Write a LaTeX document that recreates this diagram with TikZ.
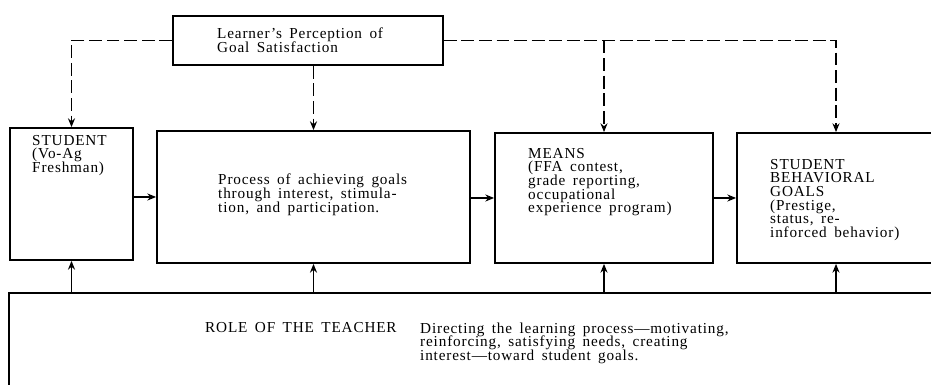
\documentclass[tikz,border=0pt]{standalone}
\usepackage{fontspec}
\setmainfont{Liberation Serif}[LetterSpace=5.5, WordSpace=1.6]
\usetikzlibrary{arrows.meta}
\setlength{\lineskiplimit}{-20pt}

\tikzset{
  box/.style={draw, line width=1.5pt, rectangle, inner sep=0pt},
  boxtext/.style={anchor=north west, align=left, inner sep=0pt,
    font=\fontsize{13}{11.6}\selectfont},
  flow/.style={line width=1.4pt, -{Stealth[length=7.5pt,width=6pt]}},
  feedback/.style={flow, dash pattern=on 11pt off 4pt}
}

\begin{document}
\begin{tikzpicture}
\useasboundingbox (0,0) rectangle (27.93,11.55);
\clip (0,0) rectangle (27.93,11.55);

% The boxes
\node[box, minimum width=8.1cm, minimum height=1.47cm] (perception) at (9.24, 10.335) {};
\node[box, minimum width=3.69cm, minimum height=3.96cm] (student) at (2.145, 5.73) {};
\node[box, minimum width=9.39cm, minimum height=3.96cm] (process) at (9.405, 5.64) {};
\node[box, minimum width=6.54cm, minimum height=3.9cm] (means) at (18.12, 5.61) {};
\node[box, minimum width=5.94cm, minimum height=3.9cm] (goals) at (25.08, 5.61) {};
\node[box, minimum width=28.53cm, minimum height=3.21cm] (teacher) at (14.535, 1.155) {};

% Texts inside the boxes
\node[boxtext] (perceptiontext) at (6.51, 10.71) {Learner’s Perception of\\Goal Satisfaction};
\node[boxtext] (studenttext) at (0.96, 7.50) {STUDENT\\(Vo-Ag\\Freshman)};
\node[boxtext] (processtext) at (6.54, 6.33) {Process of achieving goals\\through interest, stimula-\\tion, and participation.};
\node[boxtext] (meanstext) at (15.84, 7.11) {MEANS\\(FFA contest,\\grade reporting,\\occupational\\experience program)};
\node[boxtext] (goalstext) at (23.10, 6.78) {STUDENT\\BEHAVIORAL\\GOALS\\(Prestige,\\status, re-\\inforced behavior)};
\node[boxtext] (roletext) at (6.15, 1.875) {ROLE OF THE TEACHER};
\node[boxtext] (directingtext) at (12.60, 1.875) {Directing the learning process—motivating,\\reinforcing, satisfying needs, creating\\interest—toward student goals.};

% Feedback from the learner's perception
\draw[feedback] (perception.west) -| (student.north);
\draw[feedback] (process.north |- perception.south) -- (process.north);
\draw[feedback] (perception.east) -| (goals.north);
\draw[feedback] (means.north |- perception.east) -- (means.north);

% Flow from student to goals
\draw[flow] (student.east |- process.west) -- (process.west);
\draw[flow] (process.east |- means.west) -- (means.west);
\draw[flow] (means.east) -- (goals.west);

% Role of the teacher
\draw[flow] (student.south |- teacher.north) -- (student.south);
\draw[flow] (process.south |- teacher.north) -- (process.south);
\draw[flow] (means.south |- teacher.north) -- (means.south);
\draw[flow] (goals.south |- teacher.north) -- (goals.south);
\end{tikzpicture}
\end{document}
